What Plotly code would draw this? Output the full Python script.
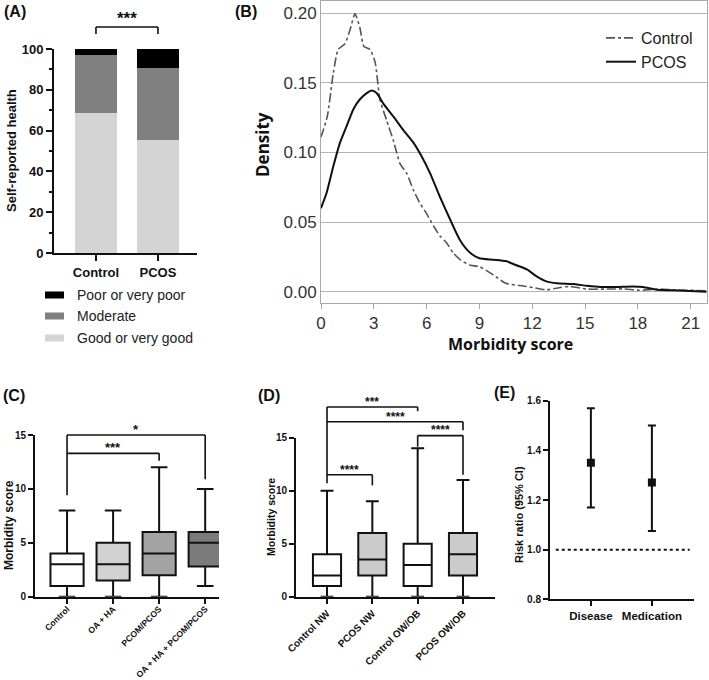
import plotly.graph_objects as go

# ---------------- Panel A: self-reported health (%) ----------------
health_groups = ["Control", "PCOS"]
good_pct = [68.5, 55.5]
moderate_pct = [28.6, 35.4]
poor_pct = [2.9, 9.1]
health_levels = ["Poor or very poor", "Moderate", "Good or very good"]

# ---------------- Panel B: density of morbidity score ----------------
ctrl_x = [0, 0.36, 0.7, 0.98, 1.36, 1.65, 1.93, 2.2, 2.44, 2.78, 3.07, 3.35, 3.73, 4.1,
          4.49, 4.87, 5.25, 5.6, 6.0, 6.4, 6.76, 7.14, 7.5, 7.9, 8.47, 9.0, 9.8, 10.5,
          11.3, 12.06, 12.8, 13.6, 14.1, 15.1, 16.2, 17.2, 18.1, 19.1, 20.0, 21.9]
ctrl_y = [0.111, 0.126, 0.157, 0.174, 0.178, 0.188, 0.1995, 0.190, 0.176, 0.174, 0.165,
          0.138, 0.123, 0.109, 0.092, 0.085, 0.073, 0.064, 0.056, 0.047, 0.040, 0.035,
          0.028, 0.023, 0.019, 0.018, 0.012, 0.006, 0.0045, 0.003, 0.0014, 0.003, 0.0038,
          0.0019, 0.0019, 0.002, 0.001, 0.0019, 0.0014, 0.0007]
pcos_x = [0, 0.32, 0.7, 1.08, 1.46, 1.84, 2.2, 2.6, 2.88, 3.16, 3.54, 4.1, 4.68, 5.25,
          5.72, 6.2, 6.76, 7.33, 7.9, 8.47, 9.0, 9.8, 10.5, 11.1, 11.7, 12.25, 12.8,
          13.4, 14.3, 15.1, 15.85, 16.8, 17.7, 18.3, 19.07, 20.0, 21.9]
pcos_y = [0.060, 0.071, 0.090, 0.107, 0.119, 0.131, 0.138, 0.1426, 0.1445, 0.1426, 0.135,
          0.126, 0.116, 0.107, 0.097, 0.085, 0.068, 0.052, 0.037, 0.028, 0.024, 0.023,
          0.022, 0.019, 0.016, 0.011, 0.0074, 0.006, 0.0055, 0.0043, 0.0034, 0.0034,
          0.0038, 0.0034, 0.0014, 0.001, 0.0]

# ---------------- Panel C: morbidity score by phenotype ----------------
c_groups = ["Control", "OA + HA", "PCOM/PCOS", "OA + HA + PCOM/PCOS"]
c_min = [0, 0, 0, 1]
c_q1 = [1, 1.5, 2, 2.8]
c_med = [3, 3, 4, 5]
c_q3 = [4, 5, 6, 6]
c_max = [8, 8, 12, 10]
c_colors = ["#ffffff", "#d2d2d2", "#a3a3a3", "#7b7b7b"]

# ---------------- Panel D: morbidity score by BMI ----------------
d_groups = ["Control NW", "PCOS NW", "Control OW/OB", "PCOS OW/OB"]
d_min = [0, 0, 0, 0]
d_q1 = [1, 2, 1, 2]
d_med = [2, 3.5, 3, 4]
d_q3 = [4, 6, 5, 6]
d_max = [10, 9, 14, 11]
d_colors = ["#ffffff", "#cbcbcb", "#ffffff", "#cbcbcb"]

# ---------------- Panel E: risk ratios ----------------
e_groups = ["Disease", "Medication"]
e_rr = [1.35, 1.27]
e_lo = [1.17, 1.075]
e_hi = [1.57, 1.50]
e_ref = 1.0

W, H = 709, 680
FONT = "Liberation Sans"


def fx(p):
    return p / W


def fy(p):
    return 1 - p / H


fig = go.Figure()

# Panel A bars
for name, vals, col in [("Good or very good", good_pct, "#d4d4d4"),
                        ("Moderate", moderate_pct, "#808080"),
                        ("Poor or very poor", poor_pct, "#000000")]:
    fig.add_trace(go.Bar(x=health_groups, y=vals, name=name, marker=dict(color=col, line=dict(width=0)),
                         width=0.67, xaxis="x", yaxis="y", showlegend=False))

# Panel B curves
fig.add_trace(go.Scatter(x=ctrl_x, y=ctrl_y, mode="lines", name="Control",
                         line=dict(color="#555555", width=1.6, dash="dashdot", shape="spline", smoothing=0.6),
                         xaxis="x2", yaxis="y2"))
fig.add_trace(go.Scatter(x=pcos_x, y=pcos_y, mode="lines", name="PCOS",
                         line=dict(color="#111111", width=2, shape="spline", smoothing=0.6),
                         xaxis="x2", yaxis="y2"))

# Panel C boxes
for i, g in enumerate(c_groups):
    fig.add_trace(go.Box(x=[g], q1=[c_q1[i]], median=[c_med[i]], q3=[c_q3[i]],
                         lowerfence=[c_min[i]], upperfence=[c_max[i]],
                         fillcolor=c_colors[i], line=dict(color="#111111", width=2),
                         width=0.72, whiskerwidth=0.5, boxpoints=False,
                         xaxis="x3", yaxis="y3", showlegend=False))

# Panel D boxes
for i, g in enumerate(d_groups):
    fig.add_trace(go.Box(x=[g], q1=[d_q1[i]], median=[d_med[i]], q3=[d_q3[i]],
                         lowerfence=[d_min[i]], upperfence=[d_max[i]],
                         fillcolor=d_colors[i], line=dict(color="#111111", width=2),
                         width=0.62, whiskerwidth=0.46, boxpoints=False,
                         xaxis="x4", yaxis="y4", showlegend=False))

# Panel E risk ratios
fig.add_trace(go.Scatter(x=e_groups, y=e_rr, mode="markers",
                         marker=dict(symbol="square", size=8, color="#111111"),
                         error_y=dict(type="data", symmetric=False,
                                      array=[h - r for h, r in zip(e_hi, e_rr)],
                                      arrayminus=[r - l for r, l in zip(e_rr, e_lo)],
                                      color="#111111", thickness=2, width=4),
                         xaxis="x5", yaxis="y5", showlegend=False))

blk = "#111111"
bold = dict(family=FONT, weight="bold", color=blk)


def prism_axis(**kw):
    d = dict(showline=True, linecolor=blk, linewidth=2, ticks="outside", ticklen=5,
             tickwidth=2, tickcolor=blk, showgrid=False, zeroline=False, fixedrange=True,
             automargin=False)
    d.update(kw)
    return d


layout = dict(
    width=W, height=H, margin=dict(l=0, r=0, t=0, b=0, pad=0), autosize=False,
    paper_bgcolor="white", plot_bgcolor="white",
    font=dict(family=FONT, color=blk),
    barmode="stack", boxmode="overlay",
    legend=dict(x=fx(601), y=fy(21), xanchor="left", yanchor="top", traceorder="normal",
                bgcolor="rgba(0,0,0,0)", font=dict(family=FONT, size=16, color="#222"),
                itemwidth=30, tracegroupgap=0),
    # A
    xaxis=prism_axis(domain=[fx(54), fx(197)], anchor="y", range=[-0.677, 1.63],
                     type="category", ticklen=6, tickfont=dict(bold, size=13)),
    yaxis=prism_axis(domain=[fy(253), fy(49)], anchor="x", range=[0, 100], dtick=20,
                     ticklen=6, tickfont=dict(bold, size=13),
                     minor=dict(dtick=10, ticks="outside", ticklen=3, tickwidth=2, tickcolor=blk)),
    # B
    xaxis2=dict(domain=[fx(321), fx(707)], anchor="y2", range=[0, 21.93], dtick=3, tick0=0,
                showline=True, linecolor="#a8a8a8", linewidth=1, mirror=True, automargin=False,
                ticks="outside", ticklen=5, tickcolor="#a8a8a8", showgrid=False, zeroline=False,
                tickfont=dict(family=FONT, size=17, color="#333")),
    yaxis2=dict(domain=[fy(303), fy(1)], anchor="x2", range=[-0.0081, 0.2087], dtick=0.05, tick0=0,
                tickformat=".2f", showline=True, linecolor="#a8a8a8", linewidth=1, mirror=True,
                automargin=False,
                showgrid=True, gridcolor="#b4b4b4", gridwidth=1.3, zeroline=False, ticks="",
                tickfont=dict(family=FONT, size=17, color="#333")),
    # C
    xaxis3=prism_axis(domain=[fx(35), fx(219)], anchor="y3", type="category",
                      categoryorder="array", categoryarray=c_groups, range=[-0.696, 3.30],
                      tickangle=-45, ticklabelstandoff=-3, tickfont=dict(bold, size=8.6)),
    yaxis3=prism_axis(domain=[fy(596.7), fy(435)], anchor="x3", range=[0, 15], dtick=5,
                      tickfont=dict(bold, size=10)),
    # D
    xaxis4=prism_axis(domain=[fx(296), fx(495)], anchor="y4", type="category",
                      categoryorder="array", categoryarray=d_groups, range=[-0.684, 3.706],
                      tickangle=-45, tickfont=dict(bold, size=10)),
    yaxis4=prism_axis(domain=[fy(596.7), fy(437.7)], anchor="x4", range=[0, 15], dtick=5,
                      tickfont=dict(bold, size=10)),
    # E
    xaxis5=prism_axis(domain=[fx(550), fx(694)], anchor="y5", type="category",
                      range=[-0.67, 1.69], tickfont=dict(bold, size=11.5)),
    yaxis5=prism_axis(domain=[fy(599.3), fy(400.7)], anchor="x5", range=[0.8, 1.6], dtick=0.2,
                      tickformat=".1f", tickfont=dict(bold, size=10)),
)
fig.update_layout(**layout)

shapes = []
annots = []


def line(xref, yref, x0, y0, x1, y1, color=blk, width=1.6, dash=None):
    d = dict(type="line", xref=xref, yref=yref, x0=x0, y0=y0, x1=x1, y1=y1,
             line=dict(color=color, width=width))
    if dash:
        d["line"]["dash"] = dash
    shapes.append(d)


def bracket(xr, yr, xa, xb, ytop, ya, yb, scale, label, ty, size):
    line(xr, yr, xa, ya / scale, xa, ytop / scale)
    line(xr, yr, xa, ytop / scale, xb, ytop / scale)
    line(xr, yr, xb, ytop / scale, xb, yb / scale)
    annots.append(dict(xref=xr, yref=yr, x=(xa + xb) / 2, y=ty / scale, text=label,
                       showarrow=False, yanchor="middle",
                       font=dict(family=FONT, size=size, weight="bold", color=blk)))


# A significance bracket (y in axis-domain units: 1 == 100%)
bracket("x", "y domain", 0, 1, 110.8, 107.4, 107.4, 100, "***", 115.0, 17)

# C brackets (axis-domain units relative to 15)
bracket("x3", "y3 domain", 0, 3, 15, 9.4, 10.9, 15, "*", 15.5, 13)
bracket("x3", "y3 domain", 0, 2, 13.3, 13.3, 12.6, 15, "***", 13.8, 13)

# D brackets
bracket("x4", "y4 domain", 0, 2, 17.9, 10.7, 17.5, 15, "***", 18.4, 12)
bracket("x4", "y4 domain", 0, 3, 16.5, 16.5, 15.7, 15, "****", 17.0, 12)
bracket("x4", "y4 domain", 2, 3, 15.2, 14.15, 11.5, 15, "****", 15.7, 12)
bracket("x4", "y4 domain", 0, 1, 11.5, 11.5, 10.5, 15, "****", 12.0, 12)

# E reference line
line("x5 domain", "y5", 0.04, e_ref, 0.97, e_ref, width=2, dash="dot")

# A legend (drawn swatches)
for name, col, py in [("Poor or very poor", "#000000", 295),
                      ("Moderate", "#808080", 316),
                      ("Good or very good", "#d4d4d4", 338)]:
    shapes.append(dict(type="rect", xref="paper", yref="paper", x0=fx(45), x1=fx(64),
                       y0=fy(py + 3.5), y1=fy(py - 3.5), line=dict(width=0), fillcolor=col))
    annots.append(dict(xref="paper", yref="paper", x=fx(75), y=fy(py), text=name,
                       showarrow=False, xanchor="left", yanchor="middle",
                       font=dict(family=FONT, size=14, color="#222")))

# Panel labels
for lab, px, py in [("(A)", 2, 11), ("(B)", 233, 11), ("(C)", 1, 395), ("(D)", 256, 395), ("(E)", 492, 393)]:
    annots.append(dict(xref="paper", yref="paper", x=fx(px), y=fy(py), text=lab, showarrow=False,
                       xanchor="left", yanchor="middle",
                       font=dict(family=FONT, size=16, weight="bold", color=blk)))

# Axis titles
for txt, px, py, ang, size, fam in [
        ("Self-reported health", 11, 151, -90, 13, FONT),
        ("Density", 262, 145, -90, 17, "Open Sans"),
        ("Morbidity score", 510, 344, 0, 16, "Open Sans"),
        ("Morbidity score", 9, 525, -90, 12, FONT),
        ("Morbidity score", 271, 517, -90, 10.5, FONT),
        ("Risk ratio (95% CI)", 519, 515, -90, 11, FONT)]:
    annots.append(dict(xref="paper", yref="paper", x=fx(px), y=fy(py), text=txt, textangle=ang,
                       showarrow=False, xanchor="center", yanchor="middle",
                       font=dict(family=fam, size=size, weight="bold", color=blk)))

fig.update_layout(shapes=shapes, annotations=annots)
fig.write_html("out.html", config={"displayModeBar": False},
               post_script="document.body.style.margin='0';document.body.style.padding='0';")
